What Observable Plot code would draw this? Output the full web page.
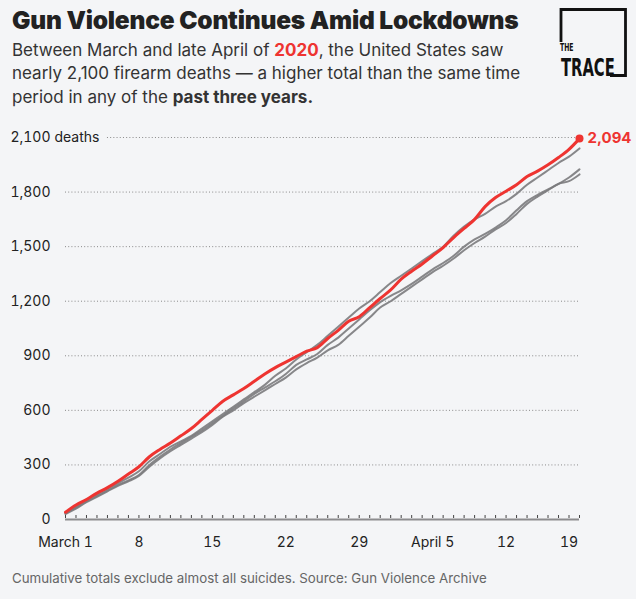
<!DOCTYPE html>
<html>
<head>
<meta charset="utf-8">
<script src="https://cdn.jsdelivr.net/npm/d3@7"></script>
<script src="https://cdn.jsdelivr.net/npm/@observablehq/plot@0.6"></script>
<style>
  html, body { margin: 0; padding: 0; background: #ffffff; }
  #card { position: relative; width: 636px; height: 599px; background: #f4f5f7; overflow: hidden; font-family: Inter, "Noto Sans", sans-serif; }
  #title { position: absolute; left: 12px; top: 7.5px; font-size: 24.5px; line-height: 24.5px; font-weight: 900; color: #222; letter-spacing: -0.2px; white-space: nowrap; }
  #subtitle { position: absolute; left: 12px; top: 38.5px; font-size: 17px; line-height: 23.5px; color: #333; white-space: nowrap; }
  #subtitle b { font-weight: 700; }
  #subtitle .red { color: #ee3431; font-weight: 700; }
  #logo { position: absolute; left: 0; top: 0; }
  #chart { position: absolute; left: 0; top: 110px; }
  #caption { position: absolute; left: 12px; top: 571.5px; font-size: 13.3px; line-height: 13.3px; color: #666; white-space: nowrap; }
</style>
</head>
<body>
<div id="card">
  <div id="title">Gun Violence Continues Amid Lockdowns</div>
  <div id="subtitle">Between March and late April of <span class="red">2020</span>, the United States saw<br>nearly 2,100 firearm deaths — a higher total than the same time<br>period in any of the <b>past three years.</b></div>
  <svg id="logo" width="636" height="100">
    <path d="M561,42 V9.5 H625.5 V75.5 H610" fill="none" stroke="#111" stroke-width="2.8"/>
    <text transform="translate(560,51) scale(0.65,1)" font-family="'Liberation Sans Narrow', 'DejaVu Sans Condensed', sans-serif" font-weight="700" font-size="10.5" fill="#111">THE</text>
    <text transform="translate(561,76) scale(0.67,1)" font-family="'Liberation Sans Narrow', 'DejaVu Sans Condensed', sans-serif" font-weight="700" font-size="24.5" fill="#111">TRACE</text>
  </svg>
  <div id="chart"></div>
  <div id="caption">Cumulative totals exclude almost all suicides. Source: Gun Violence Archive</div>
</div>
<script>
// Period: March 1 through April 19 (one value per day)
const startDate = new Date(Date.UTC(2020, 2, 1));
const endDate = new Date(Date.UTC(2020, 3, 19));
const dates = d3.utcDay.range(startDate, d3.utcDay.offset(endDate, 1));

// Cumulative firearm deaths (excluding almost all suicides)
const deaths2020 = [40, 80, 110, 145, 175, 210, 250, 290, 345, 385,
  420, 460, 500, 550, 600, 650, 685, 720, 760, 800,
  835, 865, 895, 925, 945, 995, 1040, 1090, 1115, 1165,
  1215, 1262, 1321, 1365, 1405, 1450, 1495, 1550, 1600, 1650,
  1720, 1770, 1805, 1840, 1885, 1915, 1950, 1990, 2035, 2094];
const deaths2019 = [35, 70, 110, 140, 170, 200, 230, 265, 320, 360,
  400, 430, 460, 500, 540, 580, 620, 660, 700, 740,
  790, 830, 880, 920, 960, 1010, 1060, 1110, 1160, 1200,
  1250, 1300, 1340, 1380, 1420, 1460, 1500, 1560, 1610, 1650,
  1680, 1720, 1750, 1790, 1840, 1880, 1920, 1960, 1995, 2040];
const deaths2018 = [35, 65, 100, 130, 160, 190, 215, 245, 300, 345,
  385, 420, 455, 490, 530, 570, 610, 650, 690, 725,
  760, 800, 850, 880, 910, 960, 1000, 1050, 1100, 1150,
  1195, 1230, 1260, 1295, 1335, 1375, 1410, 1450, 1500, 1540,
  1570, 1605, 1645, 1700, 1750, 1785, 1815, 1845, 1880, 1925];
const deaths2017 = [30, 60, 95, 125, 155, 185, 210, 240, 290, 335,
  375, 410, 445, 480, 520, 565, 600, 640, 675, 710,
  745, 780, 825, 860, 890, 930, 960, 1010, 1060, 1110,
  1165, 1200, 1240, 1280, 1320, 1360, 1395, 1435, 1480, 1520,
  1555, 1595, 1630, 1680, 1735, 1775, 1810, 1845, 1860, 1897];

const yTicks = [0, 300, 600, 900, 1200, 1500, 1800, 2100];
const gridTicks = [300, 600, 900, 1200, 1500, 1800];
const topTick = [2100];
const xLabelDates = [1, 8, 15, 22, 29, 36, 43, 49].map(d => d3.utcDay.offset(startDate, d - 1));
const xLabelText = ["March 1", "8", "15", "22", "29", "April 5", "12", "19"];

const red = "#ee3431";
const gray = "#7b7b7d";
const fmt = d => d.toLocaleString("en-US");

const toRows = (year, vals) => vals.map((v, i) => ({year, date: dates[i], value: v}));
const grayRows = [
  ...toRows("2017", deaths2017),
  ...toRows("2018", deaths2018),
  ...toRows("2019", deaths2019)
];
const redRows = toRows("2020", deaths2020);
const lastRed = redRows[redRows.length - 1];

const labelFor = new Map(xLabelDates.map((d, i) => [+d, xLabelText[i]]));

const chart = Plot.plot({
  width: 636,
  height: 449,
  marginTop: 27,
  marginBottom: 40,
  marginLeft: 65,
  marginRight: 57,
  style: {background: "transparent", fontFamily: "Inter, 'Noto Sans', sans-serif", color: "#222"},
  x: {type: "utc", domain: [startDate, endDate]},
  y: {domain: [0, 2100]},
  marks: [
    Plot.ruleY(gridTicks, {stroke: "#8a8a8a", strokeDasharray: "1,2.2", strokeWidth: 1}),
    Plot.ruleY(topTick, {x1: d3.utcDay.offset(startDate, 4), x2: endDate, stroke: "#8a8a8a", strokeDasharray: "1,2.2", strokeWidth: 1}),
    Plot.ruleY([0], {stroke: "#8c8c8e", strokeWidth: 2.2}),
    Plot.axisX({ticks: dates, tickSize: 3, text: null, stroke: "#444", strokeWidth: 1, dy: -4, label: null}),
    Plot.axisX({ticks: xLabelDates, tickSize: 0, tickPadding: 18, tickFormat: d => labelFor.get(+d), fontSize: 14, fill: "#222", label: null}),
    Plot.axisY({ticks: yTicks, tickSize: 0, tickPadding: 15, tickFormat: fmt, fontSize: 14, fill: "#222", label: null}),
    Plot.text(topTick, {y: d => d, text: () => "deaths", frameAnchor: "left", textAnchor: "start", dx: -11, fontSize: 14, fill: "#222"}),
    Plot.line(grayRows, {x: "date", y: "value", z: "year", stroke: gray, strokeWidth: 2, strokeOpacity: 0.9, curve: "monotone-x"}),
    Plot.line(redRows, {x: "date", y: "value", stroke: red, strokeWidth: 3, curve: "monotone-x"}),
    Plot.dot([lastRed], {x: "date", y: "value", r: 4, fill: red}),
    Plot.text([lastRed], {x: "date", y: "value", text: d => fmt(d.value), dx: 8, textAnchor: "start", fontSize: 15, fontWeight: 700, fill: red})
  ]
});
document.getElementById("chart").appendChild(chart);
</script>
</body>
</html>
